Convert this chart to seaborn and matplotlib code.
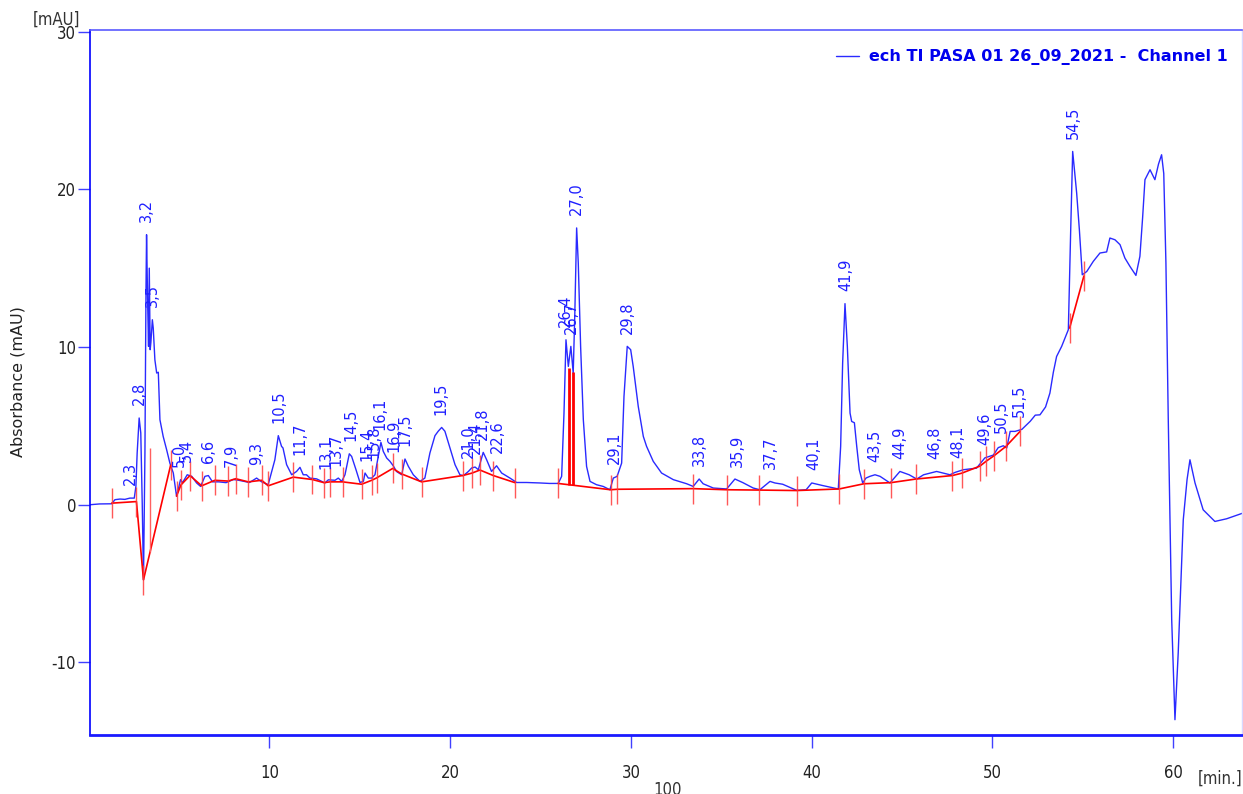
import numpy as np
import pandas as pd
import matplotlib
matplotlib.use("Agg")
import matplotlib.pyplot as plt
from matplotlib.font_manager import FontProperties
import seaborn as sns

# Detector trace: retention time (min) and absorbance (mAU)
time_min = [
    0.07, 0.6, 1.27, 1.45, 1.73, 2.0, 2.28, 2.52, 2.61, 2.68, 2.79, 2.88, 2.96, 3.03,
    3.11, 3.17, 3.20, 3.26, 3.31, 3.35, 3.40, 3.44, 3.52, 3.57, 3.66, 3.76, 3.85, 3.94,
    4.12, 4.31, 4.49, 4.68, 4.86, 4.99, 5.08, 5.19, 5.45, 5.7, 5.97, 6.19, 6.43, 6.62,
    6.85, 7.2, 7.6, 8.0, 8.3, 8.9, 9.29, 9.57, 9.93, 10.30, 10.49, 10.67, 10.75, 10.95,
    11.23, 11.5, 11.69, 11.87, 12.05, 12.24, 12.61, 12.89, 13.07, 13.26, 13.63, 13.81,
    14.0, 14.18, 14.42, 14.55, 14.79, 15.01, 15.2, 15.29, 15.47, 15.66, 15.84, 16.02,
    16.17, 16.3, 16.49, 16.67, 16.85, 17.03, 17.32, 17.50, 17.69, 17.96, 18.33, 18.6,
    18.88, 19.16, 19.34, 19.53, 19.71, 19.99, 20.27, 20.54, 20.73, 21.01, 21.19, 21.38,
    21.56, 21.83, 22.02, 22.29, 22.57, 22.85, 23.31, 23.68, 24.23, 24.97, 25.5, 25.98,
    26.17, 26.3, 26.41, 26.54, 26.68, 26.81, 26.9, 27.0, 27.09, 27.22, 27.37, 27.55,
    27.74, 28.1, 28.47, 28.84, 29.03, 29.24, 29.49, 29.62, 29.80, 29.99, 30.13, 30.41,
    30.69, 30.87, 31.24, 31.70, 32.35, 33.09, 33.45, 33.78, 34.0, 34.56, 35.30, 35.76,
    36.2, 36.77, 37.14, 37.70, 37.97, 38.4, 39.18, 39.7, 40.01, 40.6, 41.48, 41.61,
    41.72, 41.85, 41.98, 42.13, 42.22, 42.37, 42.50, 42.64, 42.83, 43.01, 43.23, 43.51,
    43.79, 44.34, 44.89, 45.4, 45.82, 46.2, 46.92, 47.66, 47.94, 48.40, 49.13, 49.59,
    50.06, 50.33, 50.61, 50.80, 50.99, 51.26, 51.64, 52.1, 52.38, 52.64, 52.95, 53.19,
    53.38, 53.56, 53.84, 54.21, 54.34, 54.45, 54.67, 54.82, 54.98, 55.23, 55.59, 55.96,
    56.33, 56.51, 56.79, 57.07, 57.34, 57.62, 57.95, 58.17, 58.32, 58.45, 58.73, 59.0,
    59.2, 59.37, 59.49, 59.61, 59.74, 59.93, 60.11, 60.29, 60.57, 60.78, 60.94, 61.22,
    61.67, 62.32, 62.97, 63.87,
]
absorbance = [
    0.0, 0.05, 0.06, 0.32, 0.36, 0.34, 0.42, 0.42, 1.16, 3.28, 5.5, 4.55, 0.1, -4.76,
    3.28, 13.84, 17.12, 12.79, 10.04, 15.0, 9.83, 10.3, 11.73, 11.2, 9.19, 8.35, 8.4, 5.39,
    4.33, 3.49, 2.64, 2.01, 0.53, 1.16, 1.59, 1.4, 1.9, 1.8, 1.38, 1.16, 1.8, 1.85,
    1.45, 1.45, 1.4, 1.6, 1.55, 1.41, 1.69, 1.45, 1.27, 2.85, 4.38, 3.70, 3.6, 2.54,
    1.90, 2.11, 2.37, 1.9, 1.9, 1.69, 1.64, 1.48, 1.38, 1.58, 1.55, 1.69,
    1.48, 1.9, 3.23, 3.06, 2.22, 1.41, 1.48, 2.01, 1.69, 1.69, 1.9, 3.06,
    3.95, 3.38, 2.96, 2.75, 2.47, 2.11, 1.9, 2.90, 2.43, 1.9, 1.48, 1.69,
    3.28, 4.38, 4.66, 4.90, 4.66, 3.59, 2.54, 1.9, 1.84, 2.11, 2.33, 2.39,
    2.22, 3.32, 2.85, 2.11, 2.47, 2.01, 1.69, 1.41, 1.41, 1.38, 1.35, 1.35,
    1.8, 5.81, 10.46, 8.77, 10.04, 8.35, 12.15, 17.55, 15.33, 10.04, 5.39, 2.43,
    1.48, 1.27, 1.16, 0.95, 1.69, 1.8, 2.64, 6.87, 10.04, 9.83, 8.77, 6.23,
    4.33, 3.7, 2.75, 2.01, 1.59, 1.33, 1.16, 1.63, 1.33, 1.06, 1.0, 1.63,
    1.4, 1.06, 0.95, 1.48, 1.38, 1.3, 0.91, 0.95, 1.38, 1.22, 1.0, 3.7,
    8.98, 12.75, 10.04, 5.81, 5.28, 5.2, 3.7, 2.22, 1.38, 1.69, 1.8, 1.9,
    1.8, 1.38, 2.11, 1.9, 1.63, 1.9, 2.11, 1.9, 2.05, 2.22, 2.32, 2.97,
    3.15, 3.62, 3.74, 3.6, 4.65, 4.65, 4.78, 5.29, 5.68, 5.7, 6.2, 7.08,
    8.4, 9.40, 10.04, 11.1, 17.4, 22.4, 19.77, 17.44, 14.58, 14.79, 15.43, 15.96,
    16.03, 16.91, 16.8, 16.49, 15.64, 15.11, 14.54, 15.75, 18.2, 20.61, 21.24, 20.61,
    21.6, 22.19, 21.0, 15.33, 5.39, -7.29, -13.63, -9.4, -0.95, 1.6, 2.85, 1.38,
    -0.32, -1.06, -0.89, -0.53,
]

# Integration baseline vertices, grouped by baseline segment
baseline_seg = [0] * 4 + [1] * 26 + [2] * 18 + [3] * 2
baseline_t = [
    1.27, 2.64, 3.03, 4.53,
    4.86, 5.10, 5.60, 6.25, 6.98, 7.72, 8.13, 8.83, 9.57, 9.93, 11.32, 12.37, 13.02,
    13.35, 14.05, 15.10, 15.66, 15.93, 16.82, 17.32, 18.42, 20.69, 21.19, 21.65, 22.39, 23.59,
    25.97, 28.88, 29.25, 33.45, 35.30, 37.09, 39.18, 41.53, 42.9, 44.39, 45.78, 47.79,
    48.31, 49.32, 49.65, 50.09, 50.76, 51.54,
    54.28, 55.07,
]
baseline_mau = [
    0.1, 0.2, -4.76, 2.5,
    0.55, 1.25, 1.85, 1.2, 1.55, 1.5, 1.65, 1.45, 1.55, 1.2, 1.75, 1.6, 1.4,
    1.45, 1.45, 1.3, 1.55, 1.7, 2.3, 1.95, 1.45, 1.85, 2.0, 2.2, 1.85, 1.4,
    1.35, 0.95, 0.98, 1.02, 0.95, 0.93, 0.9, 1.0, 1.33, 1.4, 1.63, 1.85,
    2.0, 2.45, 2.75, 3.1, 3.7, 4.65,
    11.2, 14.5,
]

# Peak start/end events (min)
mark_t = [
    1.27, 2.64, 3.03, 4.53, 4.86, 5.10, 5.60, 6.25, 6.98, 7.72, 8.13, 8.83, 9.57, 9.93,
    11.32, 12.37, 13.02, 13.35, 14.05, 15.10, 15.66, 15.93, 16.82, 17.32, 18.42, 20.69,
    21.19, 21.65, 22.39, 23.59, 25.97, 28.88, 29.25, 33.45, 35.30, 37.09, 39.18, 41.53,
    42.9, 44.39, 45.78, 47.79, 48.31, 49.32, 49.65, 50.09, 50.76, 51.54, 54.28, 55.07,
]

# Perpendicular drops between unresolved peaks
drop_t = [3.39, 26.56, 26.81]
drop_top = [3.6, 8.7, 8.4]

# Retention times of the integrated peaks (min)
peak_rt = [
    2.3, 2.8, 3.2, 3.5, 5.0, 5.4, 6.6, 7.9, 9.3, 10.5, 11.7, 13.1, 13.7, 14.5, 15.4,
    15.8, 16.1, 16.9, 17.5, 19.5, 21.0, 21.4, 21.8, 22.6, 26.4, 26.7, 27.0, 29.1, 29.8,
    33.8, 35.9, 37.7, 40.1, 41.9, 43.5, 44.9, 46.8, 48.1, 49.6, 50.5, 51.5, 54.5,
]

series_name = "ech TI PASA 01 26_09_2021 -  Channel 1"

W, H = 1243, 794
sns.set_theme(style="white")
plt.rcParams["font.family"] = ["DejaVu Sans"]
plt.rcParams["axes.unicode_minus"] = False

fig = plt.figure(figsize=(W / 100, H / 100), dpi=100)
ax = fig.add_axes([90 / W, 1 - 735 / H, (1242 - 90) / W, (735 - 30) / H])

trace = pd.DataFrame({"t": time_min, "mau": absorbance})
base = pd.DataFrame({"t": baseline_t, "mau": baseline_mau, "seg": baseline_seg})

sns.lineplot(data=trace, x="t", y="mau", ax=ax, sort=False, estimator=None,
             color="#2a2aff", lw=1.0, label=series_name)
sns.lineplot(data=base, x="t", y="mau", units="seg", ax=ax, sort=False,
             estimator=None, color="#ff0000", lw=1.2, legend=False)

# Event ticks centred on the baseline
base_at_mark = []
for tm in mark_t:
    vals = []
    for s in sorted(set(baseline_seg)):
        sub = base[base.seg == s]
        if sub.t.min() - 1e-6 <= tm <= sub.t.max() + 1e-6:
            vals.append(np.interp(tm, sub.t, sub.mau))
    base_at_mark.append(vals[0])
base_at_mark = np.array(base_at_mark)
ax.vlines(mark_t, base_at_mark - 0.95, base_at_mark + 0.95, color="#ff3b3b",
          lw=1.0, alpha=0.85, zorder=3)

# Drop lines
drop_base = [np.interp(tm, base[base.seg == (0 if tm < 5 else 2)].t,
                       base[base.seg == (0 if tm < 5 else 2)].mau) for tm in drop_t]
ax.vlines(drop_t[:1], drop_base[:1], drop_top[:1], color="#ff6060", lw=1.0, zorder=3)
ax.vlines(drop_t[1:], drop_base[1:], drop_top[1:], color="#ff0000", lw=2.0, zorder=3)

# Retention-time labels above each peak apex
fine_t = np.linspace(0, 64, 12801)
fine_y = np.interp(fine_t, time_min, absorbance)
for rt in peak_rt:
    win = (fine_t >= rt - 0.08) & (fine_t <= rt + 0.08)
    top = fine_y[win].max()
    ax.text(rt, top + 0.8, f"{rt:.1f}".replace(".", ","), rotation=90,
            ha="center", va="bottom", color="#1f1fff", fontsize=10.5, zorder=4)

ax.set_xlim(0.07, 63.82)
ax.set_ylim(-14.6, 30.1)
ax.set_xticks([10, 20, 30, 40, 50, 60])
ax.set_yticks([-10, 0, 10, 20, 30])
ax.set_xlabel("")
ax.set_ylabel("")
ax.tick_params(axis="both", which="major", bottom=True, left=True, top=False,
               right=False, direction="out", length=9, width=1, color="#4040ff",
               labelcolor="#222222", labelsize=12)
ax.tick_params(axis="x", pad=12)
ax.tick_params(axis="y", pad=1)
for lab in ax.get_xticklabels() + ax.get_yticklabels():
    lab.set_fontstretch("condensed")

ax.spines["left"].set_color("#0000ff")
ax.spines["left"].set_linewidth(1.2)
ax.spines["bottom"].set_color("#1a1aff")
ax.spines["bottom"].set_linewidth(2.0)
ax.spines["top"].set_color("#5a5aff")
ax.spines["top"].set_linewidth(1.2)
ax.spines["right"].set_color("#d8d8ff")
ax.spines["right"].set_linewidth(1.0)

leg = ax.legend(loc="upper right", frameon=False, handlelength=1.45, handletextpad=0.6,
                borderaxespad=0.5, bbox_to_anchor=(1.0, 0.993),
                prop=FontProperties(family="DejaVu Sans", weight="bold", size=11.5))
for txt in leg.get_texts():
    txt.set_color("#0000ee")

side = FontProperties(family="DejaVu Sans", size=12, stretch="condensed")
fig.text(56 / W, 1 - 20 / H, "[mAU]", ha="center", va="center", color="#333333",
         fontproperties=side)
fig.text(1220 / W, 1 - 779 / H, "[min.]", ha="center", va="center", color="#333333",
         fontproperties=side)
fig.text(18 / W, 1 - 382 / H, "Absorbance (mAU)", rotation=90, ha="center",
         va="center", color="#222222", fontsize=11.5)
fig.text(668 / W, 1 - 781 / H, "100", ha="center", va="top", color="#333333",
         fontproperties=side)

fig.savefig("out.png", dpi=100)
